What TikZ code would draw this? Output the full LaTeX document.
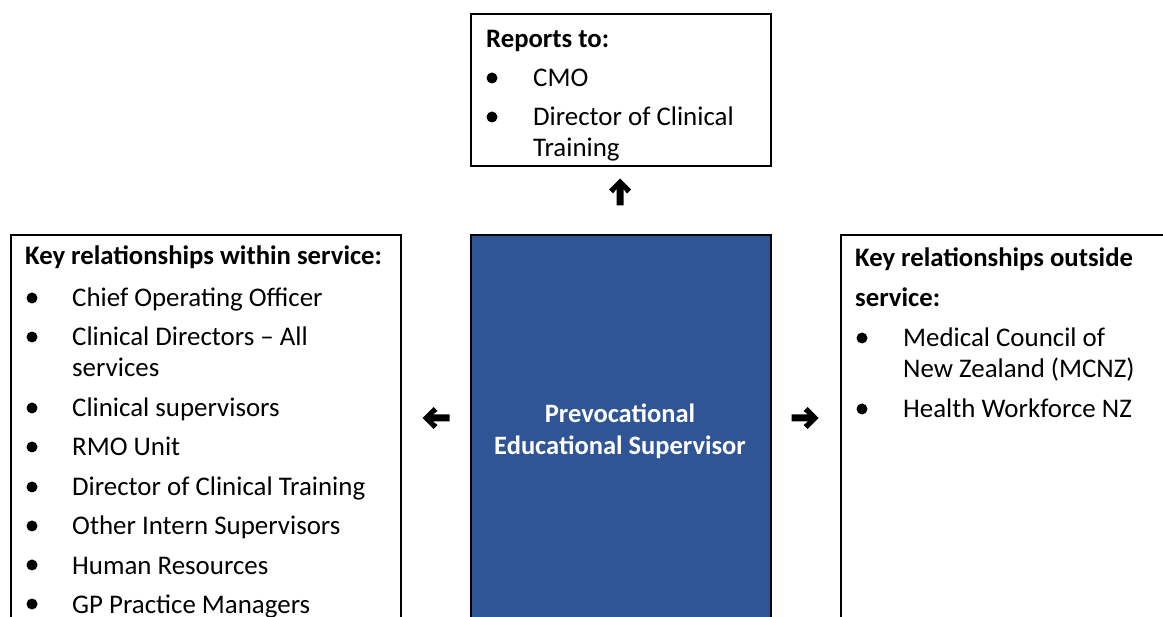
\documentclass[tikz,border=0pt]{standalone}
\usepackage{fontspec}
\setmainfont{Carlito}
\definecolor{roleblue}{RGB}{47,85,151}
\begin{document}
\begin{tikzpicture}[x=1pt,y=-1pt,
  box/.style={draw=black, line width=2pt, inner sep=0pt, anchor=north west},
  txt/.style={anchor=base west, inner sep=0pt, font=\fontsize{26.9}{30}\selectfont},
  head/.style={anchor=base west, inner sep=0pt, font=\fontsize{26.7}{30}\selectfont\bfseries},
  roletxt/.style={anchor=base, inner sep=0pt, text=white, font=\fontsize{26.5}{30}\selectfont\bfseries},
  dot/.style={circle, fill=black, inner sep=0pt, minimum size=11pt},
  wingarrow/.pic={\fill[black] (13.5,0) -- (2.5,11) -- (-1.5,7) -- (3,3.5) -- (-13.5,3.5)
                   -- (-13.5,-3.5) -- (3,-3.5) -- (-1.5,-7) -- (2.5,-11) -- cycle;}
]
\useasboundingbox (0,0) rectangle (1163,617);
\clip (0,0) rectangle (1163,617);

% frames
\node[box, minimum width=300pt, minimum height=152pt] (reports) at (470,13) {};
\node[box, minimum width=390pt, minimum height=410pt] (within) at (10,234) {};
\node[box, fill=roleblue, minimum width=300pt, minimum height=410pt] (role) at (470,234) {};
\node[box, minimum width=340pt, minimum height=410pt] (outside) at (840,234) {};

% reports to
\node[head] (rtT) at (486,48) {Reports to:};
\node[dot] (rtB1) at (492,78) {};
\node[txt] (rtI1) at (533,87) {CMO};
\node[dot] (rtB2) at (492,117) {};
\node[txt] (rtI2) at (533,126) {Director of Clinical};
\node[txt] (rtI2b) at (533,157) {Training};

% relationships within the service
\node[head] (wT) at (25,265) {Key relationships within service:};
\node[dot] (wB1) at (32,298) {};
\node[txt] (wI1) at (72,307) {Chief Operating Officer};
\node[dot] (wB2) at (32,337) {};
\node[txt] (wI2) at (72,346) {Clinical Directors – All};
\node[txt] (wI2b) at (72,377) {services};
\node[dot] (wB3) at (32,408) {};
\node[txt] (wI3) at (72,417) {Clinical supervisors};
\node[dot] (wB4) at (32,447) {};
\node[txt] (wI4) at (72,456) {RMO Unit};
\node[dot] (wB5) at (32,487) {};
\node[txt] (wI5) at (72,496) {Director of Clinical Training};
\node[dot] (wB6) at (32,526) {};
\node[txt] (wI6) at (72,535) {Other Intern Supervisors};
\node[dot] (wB7) at (32,565) {};
\node[txt] (wI7) at (72,574) {Human Resources};
\node[dot] (wB8) at (32,604) {};
\node[txt] (wI8) at (72,613) {GP Practice Managers};

% central role
\node[roletxt] (roleA) at (620,423) {Prevocational};
\node[roletxt] (roleB) at (620,455) {Educational Supervisor};

% relationships outside the service
\node[head] (oT) at (855,267) {Key relationships outside};
\node[head] (oTb) at (855,307) {service:};
\node[dot] (oB1) at (862,338) {};
\node[txt] (oI1) at (903,347) {Medical Council of};
\node[txt] (oI1b) at (903,378) {New Zealand (MCNZ)};
\node[dot] (oB2) at (862,409) {};
\node[txt] (oI2) at (903,418) {Health Workforce NZ};

% direction marks
\coordinate (upMark) at (620,192);
\coordinate (leftMark) at (436,418);
\coordinate (rightMark) at (805,418);
\pic[rotate=90] at (upMark) {wingarrow};
\pic[rotate=180] at (leftMark) {wingarrow};
\pic at (rightMark) {wingarrow};
\end{tikzpicture}
\end{document}
